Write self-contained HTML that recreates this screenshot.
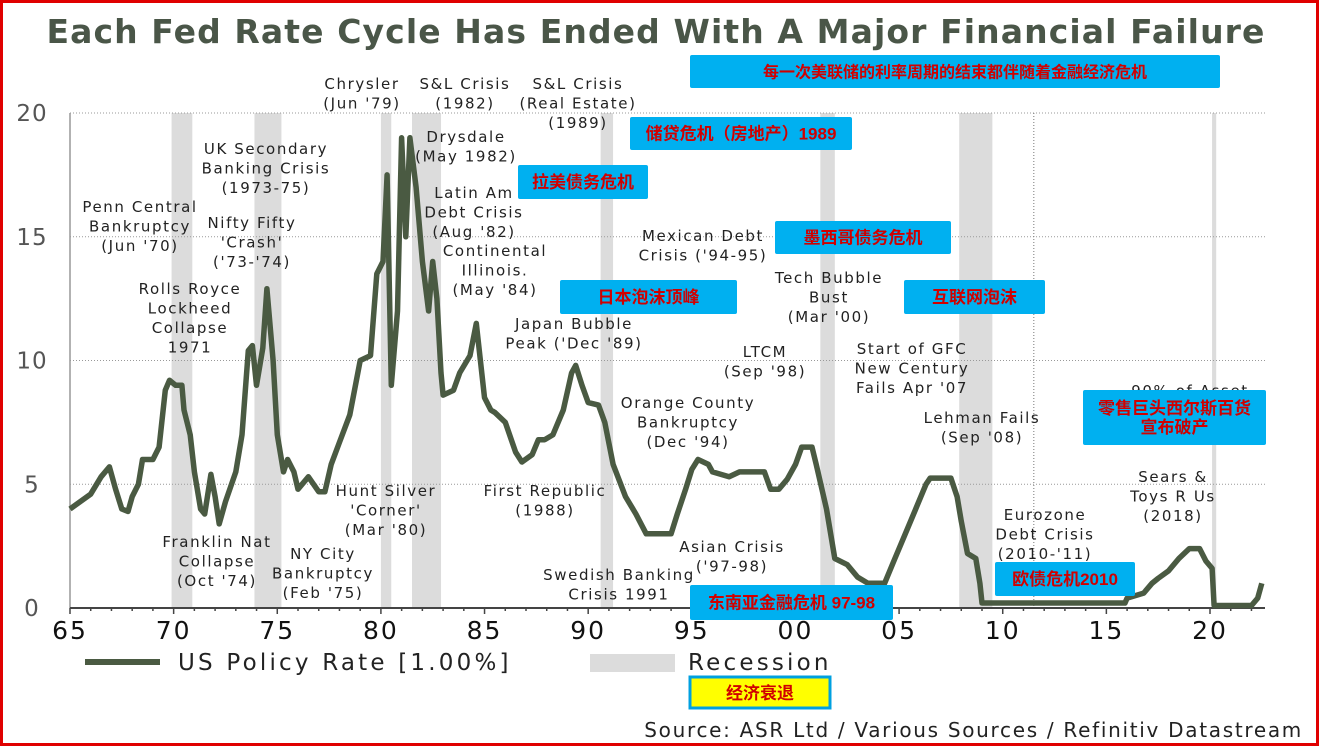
<!DOCTYPE html>
<html><head><meta charset="utf-8">
<style>
html,body{margin:0;padding:0;background:#fff;}
#wrap{position:relative;width:1319px;height:746px;overflow:hidden;}
svg text{font-family:"DejaVu Sans","Liberation Sans","Noto Sans CJK SC",sans-serif;}
.cn{font-family:"Liberation Sans","Noto Sans CJK SC",sans-serif;font-weight:bold;fill:#d00000;}
</style></head>
<body>
<div id="wrap">
<svg id="chart" width="1319" height="746" xmlns="http://www.w3.org/2000/svg">
<rect x="1.5" y="1.5" width="1316" height="743" fill="#fff" stroke="#e00000" stroke-width="3"/>
<text x="656" y="43" text-anchor="middle" font-size="33" font-weight="bold" fill="#4a5648" letter-spacing="1.1">Each Fed Rate Cycle Has Ended With A Major Financial Failure</text>
<g id="bands"></g>
<g id="grid"></g>
<g id="axes"></g>
<path id="rateLine" fill="none" stroke="#4a5a42" stroke-width="5.5" stroke-linejoin="round"/>
<g id="notes" font-size="15" fill="#222" text-anchor="middle" letter-spacing="1.6"></g>
<g id="boxes"></g>
<g>
<line x1="85" y1="662" x2="160" y2="662" stroke="#4a5a42" stroke-width="6"/>
<text x="178" y="670" font-size="23" fill="#222" letter-spacing="3.2">US Policy Rate [1.00%]</text>
<rect x="590" y="654" width="85" height="18" fill="#dcdcdc"/>
<text x="688" y="670" font-size="23" fill="#222" letter-spacing="3.2">Recession</text>
</g>
<rect x="690" y="677" width="140" height="31" fill="#ffff00" stroke="#00a0e0" stroke-width="3"/>
<text x="760" y="699" text-anchor="middle" font-size="17" class="cn">经济衰退</text>
<text x="1303" y="737" text-anchor="end" font-size="20" fill="#222" letter-spacing="1.7">Source: ASR Ltd / Various Sources / Refinitiv Datastream</text>
</svg>
</div>
<script>
const years = [1965,1966,1966.5,1966.9,1967.2,1967.5,1967.8,1968.0,1968.3,1968.5,1969.0,1969.3,1969.6,1969.8,1970.1,1970.4,1970.5,1970.8,1971.0,1971.3,1971.5,1971.8,1972.0,1972.2,1972.5,1973.0,1973.3,1973.6,1973.8,1974.0,1974.3,1974.5,1974.8,1975.0,1975.3,1975.5,1975.8,1976.0,1976.5,1977.0,1977.3,1977.6,1978.0,1978.5,1979.0,1979.5,1979.8,1980.1,1980.3,1980.5,1980.8,1981.0,1981.2,1981.4,1981.7,1982.0,1982.3,1982.5,1982.7,1982.9,1983.0,1983.5,1983.8,1984.3,1984.6,1984.8,1985.0,1985.3,1985.5,1986.0,1986.5,1986.8,1987.3,1987.6,1987.9,1988.3,1988.8,1989.2,1989.4,1989.7,1990.0,1990.5,1990.8,1991.2,1991.8,1992.3,1992.8,1993.5,1994.0,1994.3,1994.7,1995.0,1995.3,1995.8,1996.0,1996.8,1997.3,1998.5,1998.8,1999.2,1999.6,2000.0,2000.3,2000.8,2001.0,2001.5,2001.9,2002.5,2003.0,2003.5,2004.3,2004.8,2005.3,2005.8,2006.3,2006.5,2007.5,2007.8,2008.0,2008.3,2008.7,2008.9,2009.0,2015.9,2016.0,2016.8,2017.2,2017.5,2018.0,2018.5,2019.0,2019.5,2019.8,2020.1,2020.2,2022.0,2022.3,2022.5];
const rates = [4.0,4.6,5.3,5.7,4.8,4.0,3.9,4.5,5.0,6.0,6.0,6.5,8.8,9.2,9.0,9.0,8.0,7.0,5.5,4.0,3.8,5.4,4.5,3.4,4.3,5.5,7.0,10.4,10.6,9.0,10.5,12.9,10.0,7.0,5.5,6.0,5.5,4.8,5.3,4.7,4.7,5.8,6.7,7.8,10.0,10.2,13.5,14.0,17.5,9.0,12.0,19.0,15.0,19.0,17.0,14.0,12.0,14.0,12.5,9.5,8.6,8.8,9.5,10.2,11.5,10.0,8.5,8.0,7.9,7.5,6.3,5.9,6.2,6.8,6.8,7.0,8.0,9.5,9.8,9.0,8.3,8.2,7.5,5.8,4.5,3.8,3.0,3.0,3.0,3.8,4.8,5.6,6.0,5.8,5.5,5.3,5.5,5.5,4.8,4.8,5.2,5.8,6.5,6.5,5.8,4.0,2.0,1.75,1.25,1.0,1.0,2.0,3.0,4.0,5.0,5.25,5.25,4.5,3.5,2.2,2.0,1.0,0.2,0.2,0.4,0.6,1.0,1.2,1.5,2.0,2.4,2.4,1.9,1.6,0.1,0.1,0.4,1.0];
const recStart = [1969.9,1973.9,1980.0,1981.5,1990.6,2001.2,2007.9,2020.1];
const recEnd = [1970.9,1975.2,1980.5,1982.9,1991.2,2001.9,2009.5,2020.3];
const yTicks = [0,5,10,15,20];
const xTickYears = [1965,1970,1975,1980,1985,1990,1995,2000,2005,2010,2015,2020];
const xTickLabels = ["65","70","75","80","85","90","95","00","05","10","15","20"];

const NS="http://www.w3.org/2000/svg";
const X0=70, X1=1210, Y0=608, Y1=113;
const xs=y=>X0+(y-1965)*(X1-X0)/55;
const ys=v=>Y0-v*(Y0-Y1)/20;
function mk(tag,attrs,parent){const e=document.createElementNS(NS,tag);for(const k in attrs)e.setAttribute(k,attrs[k]);parent.appendChild(e);return e;}

const bands=document.getElementById('bands');
recStart.forEach((s,i)=>{
  const r=mk('rect',{x:xs(s),y:Y1,width:xs(recEnd[i])-xs(s),height:Y0-Y1,fill:'#dcdcdc'},bands);
  
  
});
const grid=document.getElementById('grid');
yTicks.forEach(t=>{
  if(t>0){const l=mk('line',{x1:X0,x2:1265,y1:ys(t),y2:ys(t),stroke:'#999','stroke-width':1,'stroke-dasharray':'1 2'},grid);
  
  }
  const tx=mk('text',{x:32,y:ys(t)+8,'text-anchor':'middle','font-size':23,fill:'#555','letter-spacing':1},grid);
  tx.textContent=t;
  
  
});
const vl=mk('line',{x1:xs(2011.5),x2:xs(2011.5),y1:Y1,y2:Y0,stroke:'#777','stroke-width':1,'stroke-dasharray':'1 2'},grid);


const axes=document.getElementById('axes');
const ya=mk('line',{x1:X0,x2:X0,y1:Y1,y2:Y0,stroke:'#999','stroke-width':1.5},axes);


const xa=mk('line',{x1:X0,x2:1265,y1:Y0,y2:Y0,stroke:'#444','stroke-width':2},axes);


for(let yr=1965;yr<=2022;yr++){
  const major=(yr%5===0);
  mk('line',{x1:xs(yr),x2:xs(yr),y1:Y0,y2:Y0+(major?6:3),stroke:'#444','stroke-width':1.5},axes);
}
xTickYears.forEach((yr,i)=>{
  const t=mk('text',{x:xs(yr),y:639,'text-anchor':'middle','font-size':25,fill:'#111','letter-spacing':2},axes);
  t.textContent=xTickLabels[i];
  
  
});
let d='';
years.forEach((yr,i)=>{d+=(i?'L':'M')+xs(yr).toFixed(1)+' '+ys(rates[i]).toFixed(1);});
document.getElementById('rateLine').setAttribute('d',d);

const notes=[
 [362,84,["Chrysler","(Jun '79)"]],
 [465,84,["S&L Crisis","(1982)"]],
 [578,84,["S&L Crisis","(Real Estate)","(1989)"]],
 [466,137,["Drysdale","(May 1982)"]],
 [474,193,["Latin Am","Debt Crisis","(Aug '82)"]],
 [495,251,["Continental","Illinois.","(May '84)"]],
 [140,207,["Penn Central","Bankruptcy","(Jun '70)"]],
 [266,149,["UK Secondary","Banking Crisis","(1973-75)"]],
 [252,223,["Nifty Fifty","'Crash'","('73-'74)"]],
 [190,289,["Rolls Royce","Lockheed","Collapse","1971"]],
 [217,542,["Franklin Nat","Collapse","(Oct '74)"]],
 [323,554,["NY City","Bankruptcy","(Feb '75)"]],
 [386,491,["Hunt Silver","'Corner'","(Mar '80)"]],
 [545,491,["First Republic","(1988)"]],
 [574,324,["Japan Bubble","Peak ('Dec '89)"]],
 [703,236,["Mexican Debt","Crisis ('94-95)"]],
 [619,575,["Swedish Banking","Crisis 1991"]],
 [732,547,["Asian Crisis","('97-98)"]],
 [688,403,["Orange County","Bankruptcy","(Dec '94)"]],
 [765,352,["LTCM","(Sep '98)"]],
 [829,278,["Tech Bubble","Bust","(Mar '00)"]],
 [912,349,["Start of GFC","New Century","Fails Apr '07"]],
 [982,418,["Lehman Fails","(Sep '08)"]],
 [1190,391,["90% of Asset","","1900 (2018)"]],
 [1173,477,["Sears &","Toys R Us","(2018)"]],
 [1045,515,["Eurozone","Debt Crisis","(2010-'11)"]]
];
const ng=document.getElementById('notes');
notes.forEach(n=>{
  const t=mk('text',{x:n[0],y:n[1]+5},ng);
  
  
  n[2].forEach((s,i)=>{const sp=mk('tspan',{x:n[0],dy:i?19.5:0},t);sp.textContent=s;});
});
const boxes=[
 [690,55,530,33,["每一次美联储的利率周期的结束都伴随着金融经济危机"],16],
 [630,117,222,33,["储贷危机（房地产）1989"],17],
 [518,165,130,34,["拉美债务危机"],17],
 [775,221,176,33,["墨西哥债务危机"],17],
 [560,280,177,34,["日本泡沫顶峰"],17],
 [904,280,141,34,["互联网泡沫"],17],
 [1083,390,183,55,["零售巨头西尔斯百货","宣布破产"],17],
 [995,562,140,34,["欧债危机2010"],17],
 [690,585,203,35,["东南亚金融危机 97-98"],17]
];
const bg=document.getElementById('boxes');
boxes.forEach(b=>{
  const r=mk('rect',{x:b[0],y:b[1],width:b[2],height:b[3],fill:'#00b0f0',rx:2},bg);
  
  
  const n=b[4].length;
  b[4].forEach((s,i)=>{
    const t=mk('text',{x:b[0]+b[2]/2,y:b[1]+b[3]/2+6+(i-(n-1)/2)*19,'text-anchor':'middle','font-size':b[5],class:'cn'},bg);
    t.textContent=s;
    
    
  });
});
</script>
</body></html>
